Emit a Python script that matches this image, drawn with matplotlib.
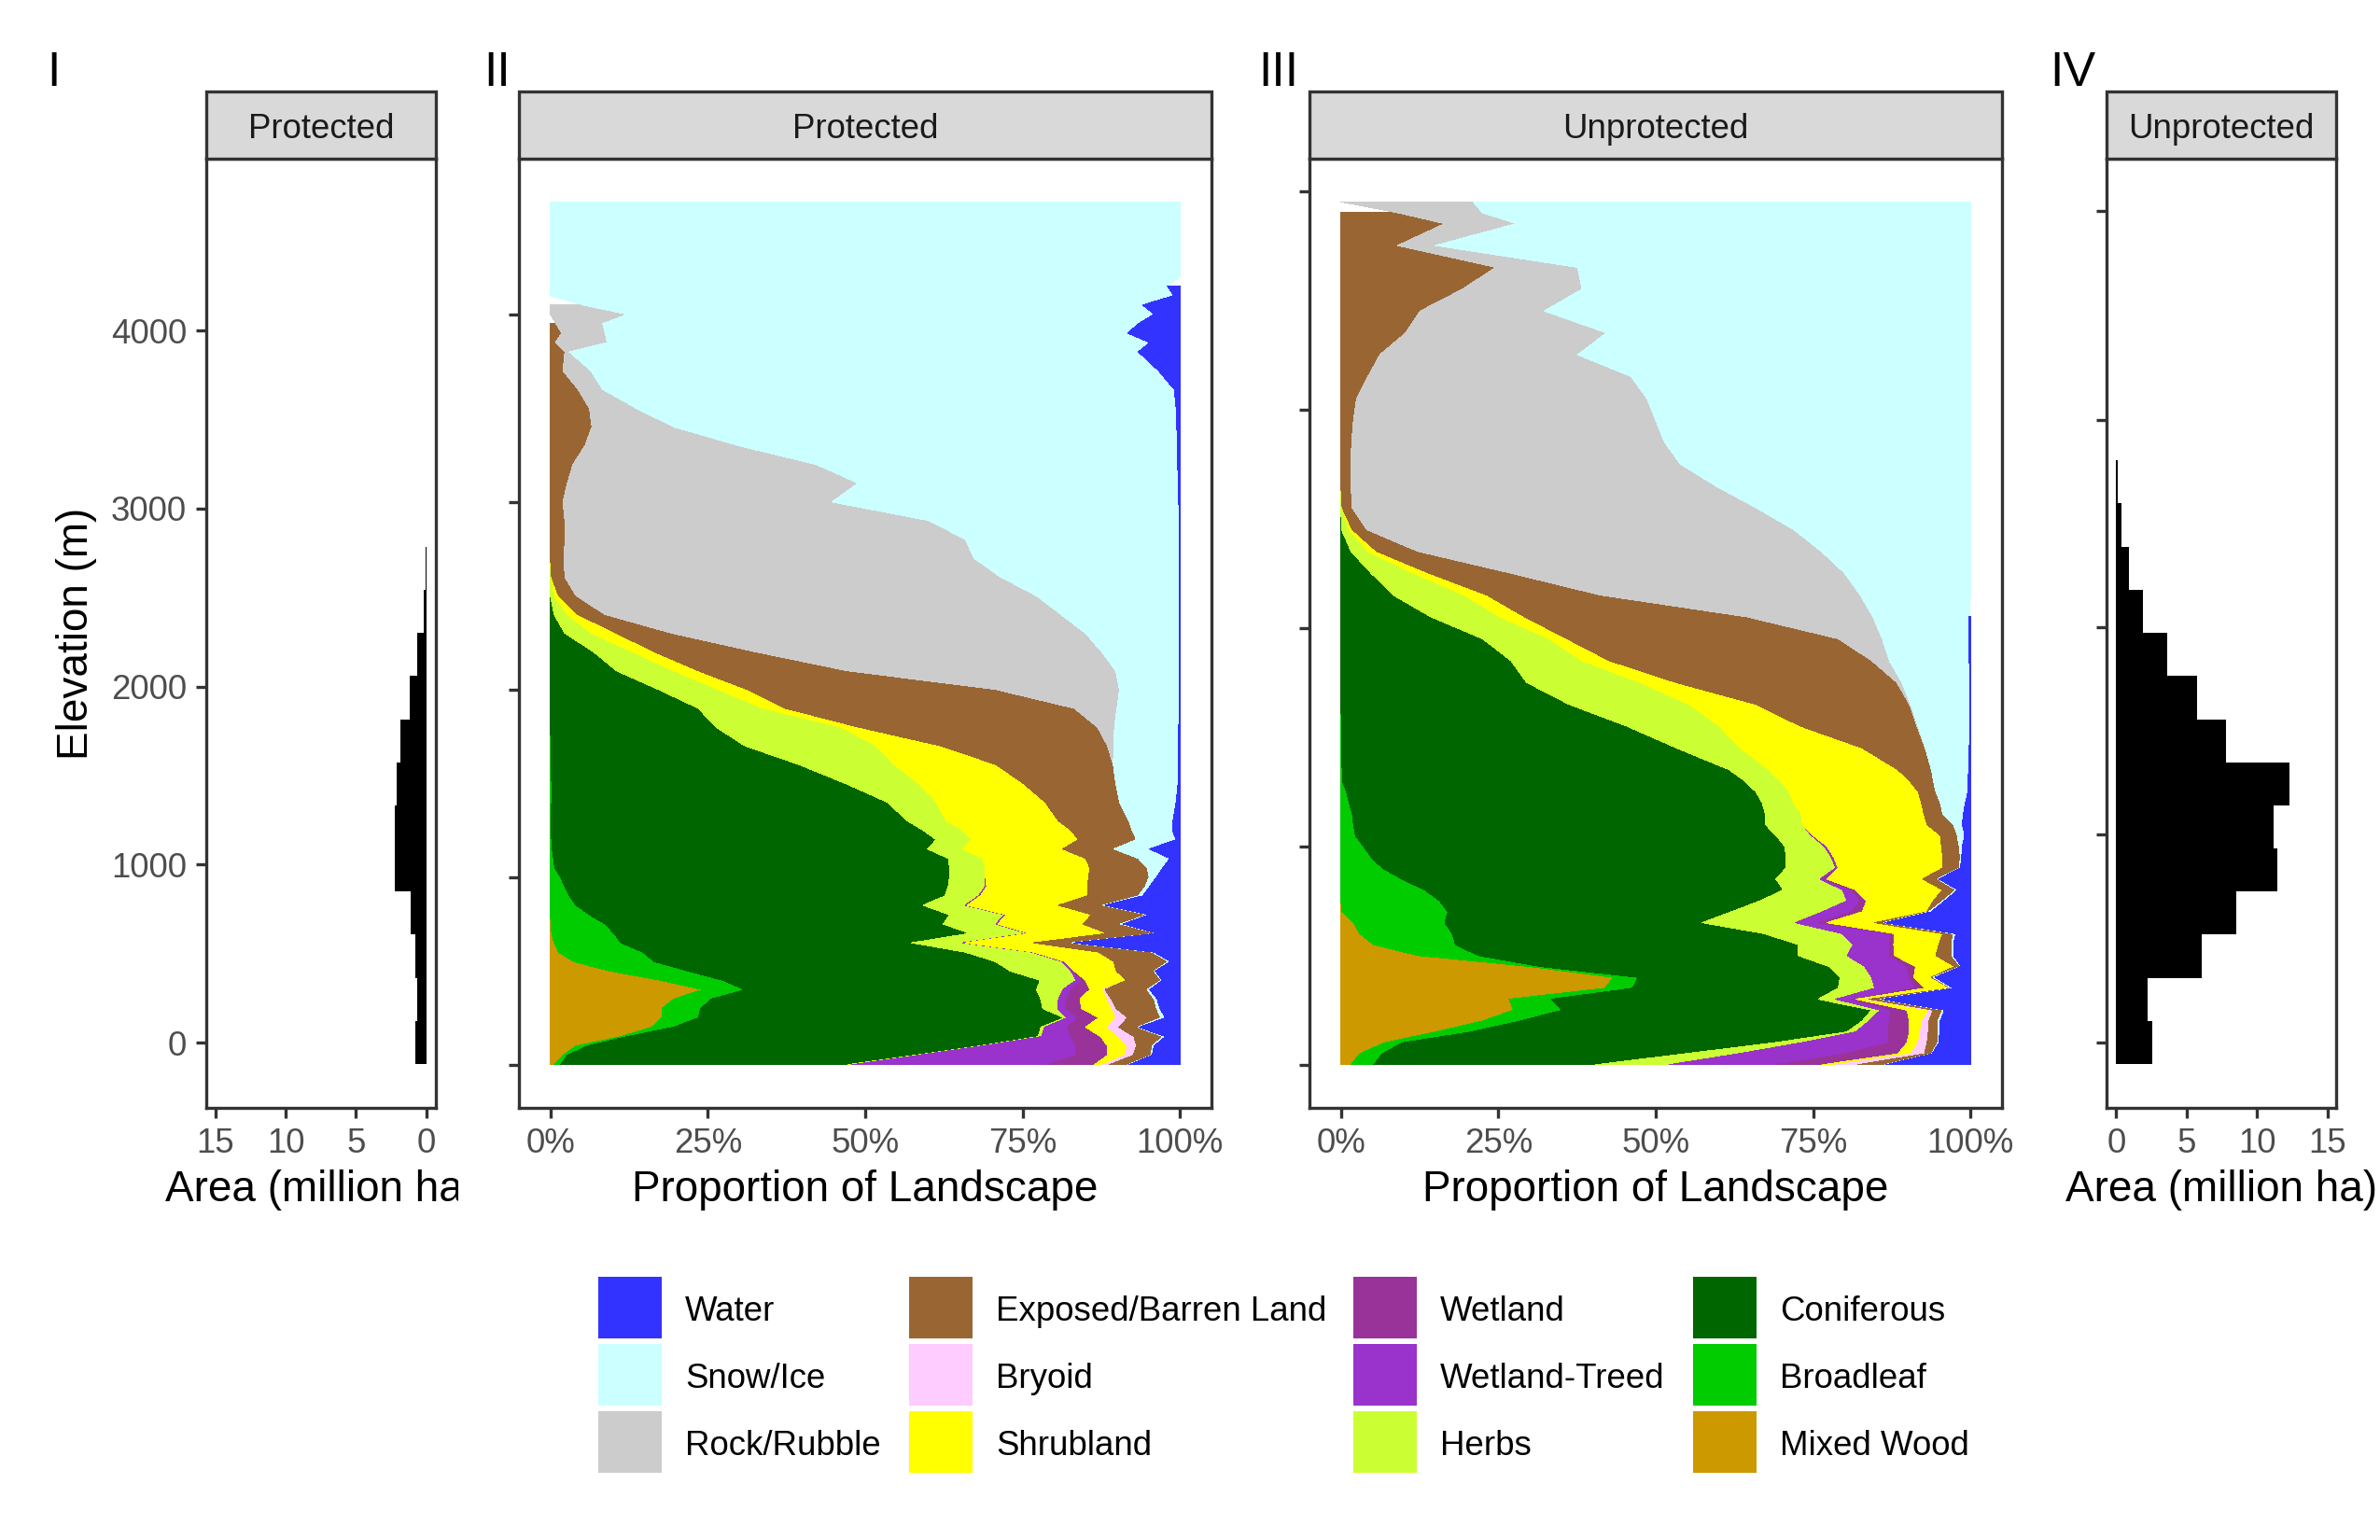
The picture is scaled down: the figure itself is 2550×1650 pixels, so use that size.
import numpy as np
import matplotlib
matplotlib.use("Agg")
import matplotlib.pyplot as plt
from matplotlib.patches import Rectangle
from matplotlib.transforms import Bbox, TransformedBbox

plt.rcParams['font.family'] = ['Liberation Sans', 'DejaVu Sans']

# ---------------- data ----------------
classes = ["Mixed Wood", "Broadleaf", "Coniferous", "Herbs", "Wetland-Treed", "Wetland",
           "Shrubland", "Bryoid", "Exposed/Barren Land", "Rock/Rubble", "Snow/Ice", "Water"]
class_colors = ["#CC9900", "#00CC00", "#006600", "#CCFF33", "#9933CC", "#993399",
                "#FFFF00", "#FFCCFF", "#996633", "#CCCCCC", "#CCFFFF", "#3333FF"]
N = None

# Protected: proportion of landscape (%) by elevation (m)
p_elev = [0, 50, 100, 150, 200, 250, 300, 350, 400, 450, 500, 550, 600, 650, 700, 750, 800, 850, 900, 950,
          1000, 1050, 1100, 1150, 1200, 1250, 1300,
          1400, 1500, 1600, 1700, 1800, 1900, 2000, 2100, 2200, 2300, 2400, 2500, 2600, 2700, 2800, 2900,
          3000, 3100, 3200, 3300, 3400, 3500, 3600, 3700, 3800,
          3850, 3900, 3950, 4000, 4050, 4100, 4150, 4200, 4300, 4400, 4500, 4600]
p_mixed = [0.6, 2.0, 4.1, 11.2, 16.1, 17.7, 17.7, 19.6, 24.2, 17.5, 9.4, 3.7, 1.3, 0.6, 0.2, 0.1, 0, 0, 0, 0,
           0, 0, 0, 0, 0, 0, 0,
           0, 0, 0, 0, 0, 0, 0, 0, 0, 0, 0, 0, 0, 0, 0, 0, 0, 0, 0, 0, 0, 0, 0, 0, 0,
           0, 0, 0, 0, 0, 0, 0, 0, 0, 0, 0, 0]
p_broad = [1.0, 0.7, 1.8, 1.0, 3.5, 5.8, 6.2, 6.0, 6.7, 9.9, 12.4, 12.8, 13.4, 10.6, 9.9, 8.6, 6.2, 4.1, 3.0, 2.3,
           1.6, 0.7, 0.5, 0.3, 0.2, 0.1, 0.1,
           0.2, 0.2, 0.1, 0.1, 0, 0, 0, 0, 0, 0, 0, 0, 0, 0, 0, 0, 0, 0, 0, 0, 0, 0, 0, 0, 0,
           0, 0, 0, 0, 0, 0, 0, 0, 0, 0, 0, 0]
p_conif = [45.6, 55.1, 62.3, 65.3, 58.3, 58.1, 54.3, 52.3, 46.3, 50.4, 51.2, 54.2, 51.2, 46.2, 56.5, 53.7, 57.2, 55.1, 59.7, 60.9,
           61.8, 62.7, 62.7, 59.6, 61.1, 59.1, 56.6,
           53.3, 46.6, 39.4, 30.8, 26.3, 23.5, 17.2, 10.5, 6.9, 2.3, 0.6, 0, 0, 0, 0, 0, 0, 0, 0, 0, 0, 0, 0, 0, 0,
           0, 0, 0, 0, 0, 0, 0, 0, 0, 0, 0, 0]
p_herbs = [0.7, 0.5, 0.4, 0.5, 0.6, 0.5, 2.4, 2.8, 4.2, 5.7, 9.7, 10.6, 10.6, 8.1, 9.2, 8.4, 8.7, 6.7, 5.3, 5.9,
           5.7, 5.7, 5.5, 5.6, 5.6, 6.3, 6.2,
           7.8, 11.7, 15.1, 20.9, 19.8, 10.3, 9.5, 9.1, 6.2, 4.3, 2.1, 0.6, 0.1, 0, 0, 0, 0, 0, 0, 0, 0, 0, 0, 0, 0,
           0, 0, 0, 0, 0, 0, 0, 0, 0, 0, 0, 0]
p_wettreed = [31.1, 25.2, 14.9, 4.7, 3.6, 1.8, 1.2, 1.3, 1.4, 0.9, 0.5, 0.4, 0.3, 0.4, 0.3, 0.3, 0.3, 0.3, 0.3, 0.2,
              0, 0, 0, 0, 0, 0, 0,
              0, 0, 0, 0, 0, 0, 0, 0, 0, 0, 0, 0, 0, 0, 0, 0, 0, 0, 0, 0, 0, 0, 0, 0, 0,
              0, 0, 0, 0, 0, 0, 0, 0, 0, 0, 0, 0]
p_wetland = [7.4, 5.0, 5.0, 4.7, 2.9, 3.2, 2.6, 2.1, 2.9, 0.6, 0, 0, 0, 0, 0, 0, 0, 0, 0, 0,
             0, 0, 0, 0, 0, 0, 0,
             0, 0, 0, 0, 0, 0, 0, 0, 0, 0, 0, 0, 0, 0, 0, 0, 0, 0, 0, 0, 0, 0, 0, 0, 0,
             0, 0, 0, 0, 0, 0, 0, 0, 0, 0, 0, 0]
p_shrub = [1.4, 2.8, 3.2, 2.9, 3.5, 2.8, 4.8, 4.4, 2.1, 6.5, 6.7, 7.8, 10.3, 10.9, 12.4, 13.5, 13.6, 14.5, 17.0, 16.0,
           16.4, 16.6, 16.3, 15.9, 17.0, 17.2, 17.8,
           17.3, 16.6, 16.2, 10.2, 2.8, 3.5, 4.6, 3.9, 3.5, 3.9, 1.7, 0.7, 0.1, 0, 0, 0, 0, 0, 0, 0, 0, 0, 0, 0, 0,
           0, 0, 0, 0, 0, 0, 0, 0, 0, 0, 0, 0]
p_bryoid = [1.0, 1.3, 1.4, 2.4, 1.8, 1.8, 0.7, 0.6, 0.3, 0, 0, 0, 0, 0, 0, 0, 0, 0, 0, 0,
            0, 0, 0, 0, 0, 0, 0,
            0, 0, 0, 0, 0, 0, 0, 0, 0, 0, 0, 0, 0, 0, 0, 0, 0, 0, 0, 0, 0, 0, 0, 0, 0,
            0, 0, 0, 0, 0, 0, 0, 0, 0, 0, 0, 0]
p_exposed = [2.9, 2.8, 2.5, 4.6, 3.0, 5.3, 6.4, 6.8, 6.7, 5.5, 6.0, 8.7, 8.5, 6.0, 7.8, 6.0, 8.8, 7.1, 8.1, 9.2,
             9.6, 9.1, 8.4, 8.1, 9.2, 9.7, 11.2,
             11.8, 14.7, 18.6, 26.5, 38.0, 45.9, 39.5, 23.7, 16.1, 8.8, 4.3, 2.8, 2.1, 2.2, 2.3, 2.3, 2.0, 2.7, 3.6, 5.5, 6.6, 6.2, 4.4, 2.0, 2.3,
             0.8, 1.8, 0.9, N, N, N, N, N, N, N, N, N]
p_rock = [0, 0, 0, 0, 0, 0, 0, 0, 0, 0, 0, 0, 0, 0, 0, 0, 0, 0, 0, 0,
          0, 0, 0, 0, 0, 0, 0,
          0, 0, 0, 1.0, 2.7, 6.8, 19.6, 42.6, 54.9, 65.7, 72.4, 73.1, 69.2, 65.1, 63.6, 57.9, 42.7, 46.2, 38.6, 24.4, 13.0, 7.4, 3.9, 4.4, 0.7,
          8.2, 6.9, 7.4, 12.2, 5.2, N, N, N, N, N, N, N]
p_snow = [0.2, 0.2, 0.3, 0.4, 0.2, 0.7, 0.5, 0.5, 0.4, 0.2, 0.2, 0.3, 0.3, 0.4, 0.1, 0.4, 0.3, 0.3, 0.7, 0.7,
          1.2, 2.5, 5.0, 5.7, 6.3, 6.4, 7.0,
          9.0, 9.9, 10.4, 10.3, 10.2, 9.9, 9.5, 10.1, 12.3, 14.9, 18.8, 22.7, 28.4, 32.6, 34.0, 39.7, 55.1, 50.9, 57.4, 69.7, 79.9, 85.8, 90.8, 90.2, 90.4,
          86.2, 83.0, 85.1, 83.7, 88.9, 99.0, 98.0, 100, 100, 100, 100, 100]
p_water = [8.1, 4.4, 4.1, 2.3, 6.5, 2.3, 3.2, 3.6, 4.8, 2.8, 3.9, 1.5, 4.1, 16.8, 3.6, 9.0, 4.9, 11.9, 5.9, 4.8,
           3.7, 2.7, 1.6, 4.8, 0.6, 1.2, 1.1,
           0.6, 0.3, 0.2, 0.2, 0.2, 0.1, 0.1, 0.1, 0.1, 0.1, 0.1, 0.1, 0.1, 0.1, 0.1, 0.1, 0.2, 0.2, 0.4, 0.4, 0.5, 0.6, 0.9, 3.4, 6.6,
           4.8, 8.3, 6.6, 4.1, 5.9, 1.0, 2.0, N, N, N, N, N]

# Unprotected: proportion of landscape (%) by elevation (m)
u_elev = [0, 50, 100, 150, 200, 250, 300, 350, 400, 450, 500, 550, 600, 650, 700, 750, 800, 850, 900, 950,
          1000, 1050, 1100, 1150, 1200, 1250, 1300,
          1350, 1450, 1550, 1650, 1750, 1850, 1950, 2050, 2150, 2250, 2350, 2450, 2550, 2650, 2750, 2850,
          2950, 3050, 3150, 3250, 3350, 3450, 3550, 3650, 3750, 3850,
          3900, 3950]
u_mixed = [1.6, 3.0, 6.9, 15.0, 22.5, 27.4, 26.7, 41.9, 43.3, 29.9, 12.2, 5.2, 3.0, 2.0, 0.2, 0, 0, 0, 0, 0,
           0, 0, 0, 0, 0, 0, 0,
           0, 0, 0, 0, 0, 0, 0, 0, 0, 0, 0, 0, 0, 0, 0, 0, 0, 0, 0, 0, 0, 0, 0, 0, 0, 0,
           0, 0]
u_broad = [3.6, 3.6, 2.8, 5.7, 6.0, 7.8, 6.7, 4.4, 3.9, 1.7, 9.6, 13.0, 14.7, 14.5, 16.8, 15.7, 13.3, 9.7, 6.6, 4.8,
           3.6, 2.3, 2.0, 1.8, 1.3, 0.9, 0.2,
           0.2, 0.1, 0.1, 0, 0, 0, 0, 0, 0, 0, 0, 0, 0, 0, 0, 0, 0, 0, 0, 0, 0, 0, 0, 0, 0, 0,
           0, 0]
u_conif = [35.3, 48.0, 59.0, 59.7, 54.3, 49.1, 42.4, 32.7, 32.1, 45.9, 50.8, 54.4, 49.6, 40.9, 45.0, 50.9, 57.0, 59.4, 64.1, 65.9,
           66.9, 66.8, 65.4, 65.6, 65.6, 65.0, 63.9,
           61.5, 53.2, 45.3, 36.2, 29.5, 27.0, 22.5, 14.3, 8.3, 4.8, 1.6, 0.1, 0, 0, 0, 0, 0, 0, 0, 0, 0, 0, 0, 0, 0, 0,
           0, 0]
u_herbs = [11.6, 8.5, 4.3, 1.4, 1.1, 1.4, 2.8, 5.8, 5.0, 5.7, 7.8, 8.8, 12.4, 14.8, 14.5, 13.8, 9.4, 7.0, 7.9, 7.2,
           6.3, 5.6, 5.9, 5.7, 5.0, 5.3, 5.7,
           6.3, 10.1, 14.7, 19.1, 18.0, 11.3, 10.6, 11.0, 11.3, 6.7, 2.7, 1.2, 0.2, 0, 0, 0, 0, 0, 0, 0, 0, 0, 0, 0, 0, 0,
           0, 0]
u_wettreed = [17.3, 16.9, 14.1, 5.1, 3.2, 1.7, 2.5, 6.5, 6.0, 6.7, 6.7, 5.7, 7.7, 3.6, 4.6, 2.1, 1.4, 0.5, 0.4, 0.4,
              0.4, 0.3, 0, 0, 0, 0, 0,
              0, 0, 0, 0, 0, 0, 0, 0, 0, 0, 0, 0, 0, 0, 0, 0, 0, 0, 0, 0, 0, 0, 0, 0, 0, 0,
              0, 0]
u_wetland = [7.1, 8.5, 2.8, 3.4, 3.2, 2.5, 0.7, 1.4, 0.7, 1.4, 0.8, 0.7, 0.5, 1.4, 1.7, 1.0, 0.7, 0.6, 0, 0,
             0, 0, 0, 0, 0, 0, 0,
             0, 0, 0, 0, 0, 0, 0, 0, 0, 0, 0, 0, 0, 0, 0, 0, 0, 0, 0, 0, 0, 0, 0, 0, 0, 0,
             0, 0]
u_shrub = [2.1, 2.1, 1.8, 1.7, 2.1, 3.5, 1.7, 4.1, 2.8, 6.2, 6.6, 7.2, 7.7, 7.6, 10.3, 10.6, 13.8, 15.2, 16.6, 17.3,
           18.2, 20.2, 19.8, 19.5, 20.3, 20.5, 20.5,
           20.5, 19.4, 12.9, 10.6, 5.7, 4.3, 2.8, 3.9, 3.6, 2.5, 1.4, 0.5, 0, 0, 0, 0, 0, 0, 0, 0, 0, 0, 0, 0, 0, 0,
           0, 0]
u_bryoid = [3.5, 2.1, 1.4, 1.3, 1.0, 0.7, 0.4, 0, 0, 0, 0, 0, 0, 0, 0, 0, 0, 0, 0, 0,
            0, 0, 0, 0, 0, 0, 0,
            0, 0, 0, 0, 0, 0, 0, 0, 0, 0, 0, 0, 0, 0, 0, 0, 0, 0, 0, 0, 0, 0, 0, 0, 0, 0,
            0, 0]
u_exposed = [4.3, 1.1, 1.7, 1.5, 1.4, 1.5, 1.8, 0.2, 0.3, 0.9, 2.5, 2.0, 1.7, 1.4, 0.3, 1.5, 2.1, 2.4, 2.6, 2.8,
             2.8, 2.7, 4.2, 3.0, 3.0, 2.8, 3.8,
             5.3, 10.0, 18.5, 24.4, 35.1, 41.7, 43.1, 35.3, 18.0, 13.0, 6.5, 2.3, 1.6, 1.6, 1.6, 1.7, 2.0, 2.5, 4.3, 6.2, 10.3, 12.6, 19.3, 24.6, 9.0, 16.5,
             9.0, N]
u_rock = [0, 0, 0, 0, 0, 0, 0, 0, 0, 0, 0, 0, 0, 0, 0, 0, 0, 0, 0, 0,
          0, 0, 0, 0, 0, 0, 0,
          0, 0, 0.2, 0.2, 0.8, 2.8, 7.0, 20.0, 41.3, 53.0, 64.1, 67.8, 64.1, 57.9, 52.3, 49.7, 48.0, 46.1, 41.8, 31.4, 31.9, 19.7, 19.0, 13.0, 6.0, 11.3,
          13.5, 21.0]
u_snow = [0.2, 0.1, 0.2, 0.3, 0.4, 0.3, 0.3, 0.3, 0.3, 0.1, 0.3, 0.3, 0.4, 0.2, 0.4, 0.3, 0.3, 0.2, 0.2, 0.2,
          0.5, 1.2, 1.4, 3.3, 4.0, 5.1, 5.5,
          5.9, 7.0, 8.2, 9.4, 10.8, 12.7, 13.8, 15.3, 17.5, 20.0, 23.7, 28.1, 34.1, 40.5, 46.1, 48.6, 50.0, 51.4, 53.9, 62.4, 57.8, 67.7, 61.7, 62.4, 85.0, 72.2,
          77.5, 79.0]
u_water = [13.4, 6.1, 5.0, 4.9, 4.8, 4.1, 14.0, 2.7, 5.6, 1.5, 2.7, 2.7, 2.3, 13.6, 6.2, 4.1, 2.0, 5.0, 1.6, 1.4,
           1.3, 0.9, 1.3, 1.1, 0.8, 0.4, 0.4,
           0.3, 0.2, 0.1, 0.1, 0.1, 0.2, 0.2, 0.2, N, N, N, N, N, N, N, N, N, N, N, N, N, N, N, N, N, N,
           N, N]

# Histograms: area (million ha) per elevation bin
hist_centers = [0, 242, 485, 727, 969, 1212, 1454, 1696, 1938, 2181, 2423, 2665, 2908, 3150]
hist_width = 242
prot_area = [0.78, 0.66, 0.78, 1.09, 2.23, 2.27, 2.09, 1.87, 1.21, 0.62, 0.19, 0.08]
unprot_area = [2.54, 2.20, 6.06, 8.49, 11.40, 11.14, 12.29, 7.82, 5.72, 3.61, 1.87, 0.91, 0.38, 0.11]

prot_series = [p_mixed, p_broad, p_conif, p_herbs, p_wettreed, p_wetland, p_shrub, p_bryoid,
               p_exposed, p_rock, p_snow, p_water]
unprot_series = [u_mixed, u_broad, u_conif, u_herbs, u_wettreed, u_wetland, u_shrub, u_bryoid,
                 u_exposed, u_rock, u_snow, u_water]

# ---------------- figure ----------------
W, H = 2550, 1650
fig = plt.figure(figsize=(W / 300, H / 300), dpi=300)
fig.patch.set_facecolor('white')


def rect(x0, y0, x1, y1):
    return [x0 / W, 1 - y1 / H, (x1 - x0) / W, (y1 - y0) / H]


TOP, BOT = 170, 1187
axI = fig.add_axes(rect(221, TOP, 467, BOT))
axII = fig.add_axes(rect(556, TOP, 1298, BOT))
axIII = fig.add_axes(rect(1403, TOP, 2145, BOT))
axIV = fig.add_axes(rect(2257, TOP, 2503, BOT))

BORDER = '#333333'
TICKLAB = '#4D4D4D'


def style(ax):
    for s in ax.spines.values():
        s.set_color(BORDER)
        s.set_linewidth(0.8)
    ax.tick_params(axis='both', direction='out', length=2.6, width=0.8, color=BORDER,
                   labelcolor=TICKLAB, labelsize=8.8, pad=2.4)
    ax.set_facecolor('white')


def draw_stack(ax, elev, series):
    elev = np.asarray(elev, dtype=float)
    cum = np.zeros_like(elev)
    for s, col in zip(series, class_colors):
        v = np.array(s, dtype=float) / 100.0
        ok = ~np.isnan(v)
        v0 = np.where(ok, v, 0.0)
        left = cum.copy()
        right = cum + v0
        ax.fill_betweenx(elev[ok], left[ok], right[ok], facecolor=col, linewidth=0, antialiased=False)
        cum = right


# Panel II / III: stacked proportions
for ax, elev, series in [(axII, p_elev, prot_series), (axIII, u_elev, unprot_series)]:
    draw_stack(ax, elev, series)
    top = max(elev)
    ax.set_ylim(-0.05 * top, 1.05 * top)
    ax.set_xlim(-0.05, 1.05)
    ax.set_yticks([0, 1000, 2000, 3000, 4000])
    ax.set_yticklabels([])
    ax.set_xticks([0, 0.25, 0.5, 0.75, 1.0])
    ax.set_xticklabels(["0%", "25%", "50%", "75%", "100%"])
    style(ax)

# Panel I / IV: histograms
YLIM = (-367, 4966)
axI.barh(hist_centers[:len(prot_area)], prot_area, height=hist_width, color='black', linewidth=0)
axI.set_xlim(15.65, -0.68)
axI.set_ylim(*YLIM)
axI.set_xticks([15, 10, 5, 0])
axI.set_xticklabels(["15", "10", "5", "0"])
axI.set_yticks([0, 1000, 2000, 3000, 4000])
axI.set_yticklabels(["0", "1000", "2000", "3000", "4000"])
style(axI)

axIV.barh(hist_centers[:len(unprot_area)], unprot_area, height=hist_width, color='black', linewidth=0)
axIV.set_xlim(-0.68, 15.6)
axIV.set_ylim(*YLIM)
axIV.set_xticks([0, 5, 10, 15])
axIV.set_xticklabels(["0", "5", "10", "15"])
axIV.set_yticks([0, 1169, 2335, 3500, 4670])
axIV.set_yticklabels([])
style(axIV)

# Strips
for (x0, x1, label) in [(221, 467, "Protected"), (556, 1298, "Protected"),
                        (1403, 2145, "Unprotected"), (2257, 2503, "Unprotected")]:
    r = Rectangle((x0 / W, 1 - TOP / H), (x1 - x0) / W, (TOP - 98) / H, transform=fig.transFigure,
                  facecolor='#D9D9D9', edgecolor=BORDER, linewidth=0.8)
    fig.add_artist(r)
    fig.text((x0 + x1) / 2 / W, 1 - 148 / H, label, ha='center', va='baseline',
             fontsize=8.8, color='#1A1A1A')

# Panel tags
for x, tag in [(50, "I"), (518, "II"), (1348, "III"), (2196, "IV")]:
    fig.text(x / W, 1 - 92 / H, tag, ha='left', va='baseline', fontsize=12.5, color='black')

# Axis titles
fig.text(104 / W, 1 - 679 / H, "Elevation (m)", rotation=90, ha='right', va='center', fontsize=11)
tI = fig.text(344 / W, 1 - 1287 / H, "Area (million ha)", ha='center', va='baseline', fontsize=11)
tI.set_clip_box(TransformedBbox(Bbox([[0, 0], [491 / W, 1]]), fig.transFigure))
tI.set_clip_on(True)
fig.text(927 / W, 1 - 1287 / H, "Proportion of Landscape", ha='center', va='baseline', fontsize=11)
fig.text(1774 / W, 1 - 1287 / H, "Proportion of Landscape", ha='center', va='baseline', fontsize=11)
fig.text(2380 / W, 1 - 1287 / H, "Area (million ha)", ha='center', va='baseline', fontsize=11)

# Legend (columns of three, reverse stacking order)
legend_order = ["Water", "Snow/Ice", "Rock/Rubble", "Exposed/Barren Land", "Bryoid", "Shrubland",
                "Wetland", "Wetland-Treed", "Herbs", "Coniferous", "Broadleaf", "Mixed Wood"]
col_x = [641, 974, 1450, 1814]
row_y = [1368, 1440, 1512]
for i, name in enumerate(legend_order):
    cx = col_x[i // 3]
    ry = row_y[i % 3]
    col = class_colors[classes.index(name)]
    fig.add_artist(Rectangle((cx / W, 1 - (ry + 66) / H), 68 / W, 66 / H, transform=fig.transFigure,
                             facecolor=col, edgecolor='none'))
    fig.text((cx + 93) / W, 1 - (ry + 47) / H, name, ha='left', va='baseline', fontsize=8.8, color='black')

fig.savefig("out.png", dpi=300, facecolor='white')
